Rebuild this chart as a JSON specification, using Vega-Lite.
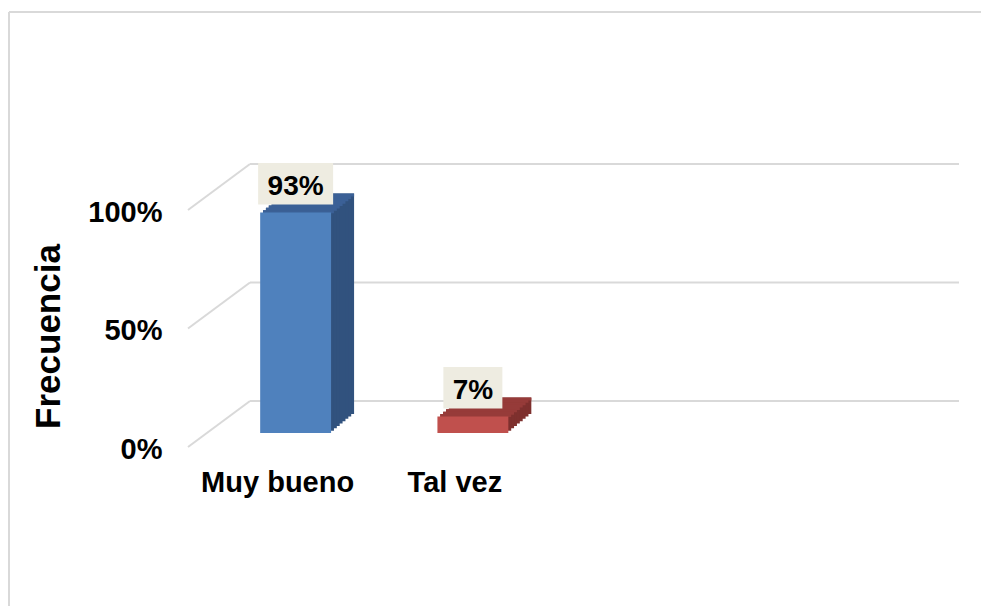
{
  "$schema": "https://vega.github.io/schema/vega-lite/v6.json",
  "width": 972,
  "height": 594,
  "autosize": "none",
  "padding": {"left": 9, "top": 12, "right": 0, "bottom": 0},
  "background": "white",
  "config": {
    "view": {"stroke": "#d9d9d9", "strokeWidth": 2, "strokeDash": [972, 1566, 594, 0]},
    "font": "Liberation Sans"
  },
  "data": {
    "values": [
      {"categoria": "Muy bueno", "frecuencia": 0.93},
      {"categoria": "Tal vez", "frecuencia": 0.07}
    ]
  },
  "encoding": {
    "x": {
      "field": "categoria",
      "type": "nominal",
      "sort": null,
      "scale": {"domain": ["Muy bueno", "Tal vez", " ", "  "], "range": [241, 950], "paddingInner": 0, "paddingOuter": 0},
      "axis": {"title": null, "domain": false, "ticks": false, "tickSize": 0, "labelPadding": -115, "labelBaseline": "alphabetic", "labelOffset": -61, "labelAngle": 0, "labelFontSize": 29, "labelFontWeight": "bold", "labelColor": "#000000", "labelFont": "Liberation Sans", "labelOverlap": false}
    },
    "y": {
      "field": "frecuencia",
      "type": "quantitative",
      "scale": {"domain": [0, 1], "range": [389, 152], "nice": false, "zero": true},
      "axis": {"title": "Frecuencia", "values": [0, 0.5, 1], "format": ".0%", "grid": false, "domain": false, "ticks": false, "tickSize": 0, "labelPadding": -153, "labelOffset": 48, "labelFontSize": 29, "labelFontWeight": "bold", "labelColor": "#000000", "labelFont": "Liberation Sans", "titleFontSize": 35, "titleFontWeight": "bold", "titleColor": "#000000", "titleFont": "Liberation Sans", "titleX": 50, "titleY": 324, "titleAngle": -90, "titleAlign": "center", "titleBaseline": "alphabetic"}
    }
  },
  "layer": [
    {
      "data": {"values": [{"v": 0}, {"v": 0.5}, {"v": 1}]},
      "mark": {"type": "rule", "color": "#d9d9d9", "strokeWidth": 2},
      "encoding": {
        "x": {"datum": "Muy bueno", "bandPosition": 0},
        "x2": {"datum": "  ", "bandPosition": 1},
        "y": {"field": "v", "type": "quantitative"}
      }
    },
    {
      "data": {"values": [{"v": 0}, {"v": 0.5}, {"v": 1}]},
      "mark": {"type": "rule", "color": "#d9d9d9", "strokeWidth": 2, "x2Offset": -62, "y2Offset": 46},
      "encoding": {
        "x": {"datum": "Muy bueno", "bandPosition": 0},
        "x2": {"datum": "Muy bueno", "bandPosition": 0},
        "y": {"field": "v", "type": "quantitative"},
        "y2": {"field": "v"}
      }
    },
    {"mark": {"type": "bar", "width": {"band": 0.4}, "xOffset": -20, "yOffset": 13, "y2Offset": 13}, "encoding": {"color": {"condition": {"test": "datum.categoria === 'Muy bueno'", "value": "#31527e"}, "value": "#7e302e"}}},
    {"mark": {"type": "bar", "width": {"band": 0.4}, "xOffset": -22.875, "yOffset": 15.375, "y2Offset": 15.375}, "encoding": {"color": {"condition": {"test": "datum.categoria === 'Muy bueno'", "value": "#31527e"}, "value": "#7e302e"}}},
    {"mark": {"type": "bar", "width": {"band": 0.4}, "xOffset": -25.75, "yOffset": 17.75, "y2Offset": 17.75}, "encoding": {"color": {"condition": {"test": "datum.categoria === 'Muy bueno'", "value": "#31527e"}, "value": "#7e302e"}}},
    {"mark": {"type": "bar", "width": {"band": 0.4}, "xOffset": -28.625, "yOffset": 20.125, "y2Offset": 20.125}, "encoding": {"color": {"condition": {"test": "datum.categoria === 'Muy bueno'", "value": "#31527e"}, "value": "#7e302e"}}},
    {"mark": {"type": "bar", "width": {"band": 0.4}, "xOffset": -31.5, "yOffset": 22.5, "y2Offset": 22.5}, "encoding": {"color": {"condition": {"test": "datum.categoria === 'Muy bueno'", "value": "#31527e"}, "value": "#7e302e"}}},
    {"mark": {"type": "bar", "width": {"band": 0.4}, "xOffset": -34.375, "yOffset": 24.875, "y2Offset": 24.875}, "encoding": {"color": {"condition": {"test": "datum.categoria === 'Muy bueno'", "value": "#31527e"}, "value": "#7e302e"}}},
    {"mark": {"type": "bar", "width": {"band": 0.4}, "xOffset": -37.25, "yOffset": 27.25, "y2Offset": 27.25}, "encoding": {"color": {"condition": {"test": "datum.categoria === 'Muy bueno'", "value": "#31527e"}, "value": "#7e302e"}}},
    {"mark": {"type": "bar", "width": {"band": 0.4}, "xOffset": -40.125, "yOffset": 29.625, "y2Offset": 29.625}, "encoding": {"color": {"condition": {"test": "datum.categoria === 'Muy bueno'", "value": "#31527e"}, "value": "#7e302e"}}},
    {"mark": {"type": "bar", "width": {"band": 0.4}, "xOffset": -20, "yOffset": 13, "y2Offset": 16}, "encoding": {"y2": {"field": "frecuencia"}, "color": {"condition": {"test": "datum.categoria === 'Muy bueno'", "value": "#3b6096"}, "value": "#963b39"}}},
    {"mark": {"type": "bar", "width": {"band": 0.4}, "xOffset": -22.875, "yOffset": 15.375, "y2Offset": 18.375}, "encoding": {"y2": {"field": "frecuencia"}, "color": {"condition": {"test": "datum.categoria === 'Muy bueno'", "value": "#3b6096"}, "value": "#963b39"}}},
    {"mark": {"type": "bar", "width": {"band": 0.4}, "xOffset": -25.75, "yOffset": 17.75, "y2Offset": 20.75}, "encoding": {"y2": {"field": "frecuencia"}, "color": {"condition": {"test": "datum.categoria === 'Muy bueno'", "value": "#3b6096"}, "value": "#963b39"}}},
    {"mark": {"type": "bar", "width": {"band": 0.4}, "xOffset": -28.625, "yOffset": 20.125, "y2Offset": 23.125}, "encoding": {"y2": {"field": "frecuencia"}, "color": {"condition": {"test": "datum.categoria === 'Muy bueno'", "value": "#3b6096"}, "value": "#963b39"}}},
    {"mark": {"type": "bar", "width": {"band": 0.4}, "xOffset": -31.5, "yOffset": 22.5, "y2Offset": 25.5}, "encoding": {"y2": {"field": "frecuencia"}, "color": {"condition": {"test": "datum.categoria === 'Muy bueno'", "value": "#3b6096"}, "value": "#963b39"}}},
    {"mark": {"type": "bar", "width": {"band": 0.4}, "xOffset": -34.375, "yOffset": 24.875, "y2Offset": 27.875}, "encoding": {"y2": {"field": "frecuencia"}, "color": {"condition": {"test": "datum.categoria === 'Muy bueno'", "value": "#3b6096"}, "value": "#963b39"}}},
    {"mark": {"type": "bar", "width": {"band": 0.4}, "xOffset": -37.25, "yOffset": 27.25, "y2Offset": 30.25}, "encoding": {"y2": {"field": "frecuencia"}, "color": {"condition": {"test": "datum.categoria === 'Muy bueno'", "value": "#3b6096"}, "value": "#963b39"}}},
    {"mark": {"type": "bar", "width": {"band": 0.4}, "xOffset": -40.125, "yOffset": 29.625, "y2Offset": 32.625}, "encoding": {"y2": {"field": "frecuencia"}, "color": {"condition": {"test": "datum.categoria === 'Muy bueno'", "value": "#3b6096"}, "value": "#963b39"}}},
    {"mark": {"type": "bar", "width": {"band": 0.4}, "xOffset": -43, "yOffset": 32, "y2Offset": 32}, "encoding": {"color": {"condition": {"test": "datum.categoria === 'Muy bueno'", "value": "#4f81bd"}, "value": "#c0504d"}}},
    {
      "mark": {"type": "bar", "color": "#eeece1", "xOffset": -43, "yOffset": -17.5, "y2Offset": 24},
      "encoding": {
        "y2": {"field": "frecuencia"},
        "size": {"field": "categoria", "type": "nominal", "scale": {"domain": ["Muy bueno", "Tal vez"], "range": [75, 59]}, "legend": null}
      }
    },
    {
      "mark": {"type": "text", "dx": -43, "dy": 14.5, "baseline": "alphabetic", "align": "center", "fontSize": 28, "fontWeight": "bold", "font": "Liberation Sans", "color": "#000000"},
      "encoding": {"text": {"field": "frecuencia", "type": "quantitative", "format": ".0%"}}
    }
  ]
}
